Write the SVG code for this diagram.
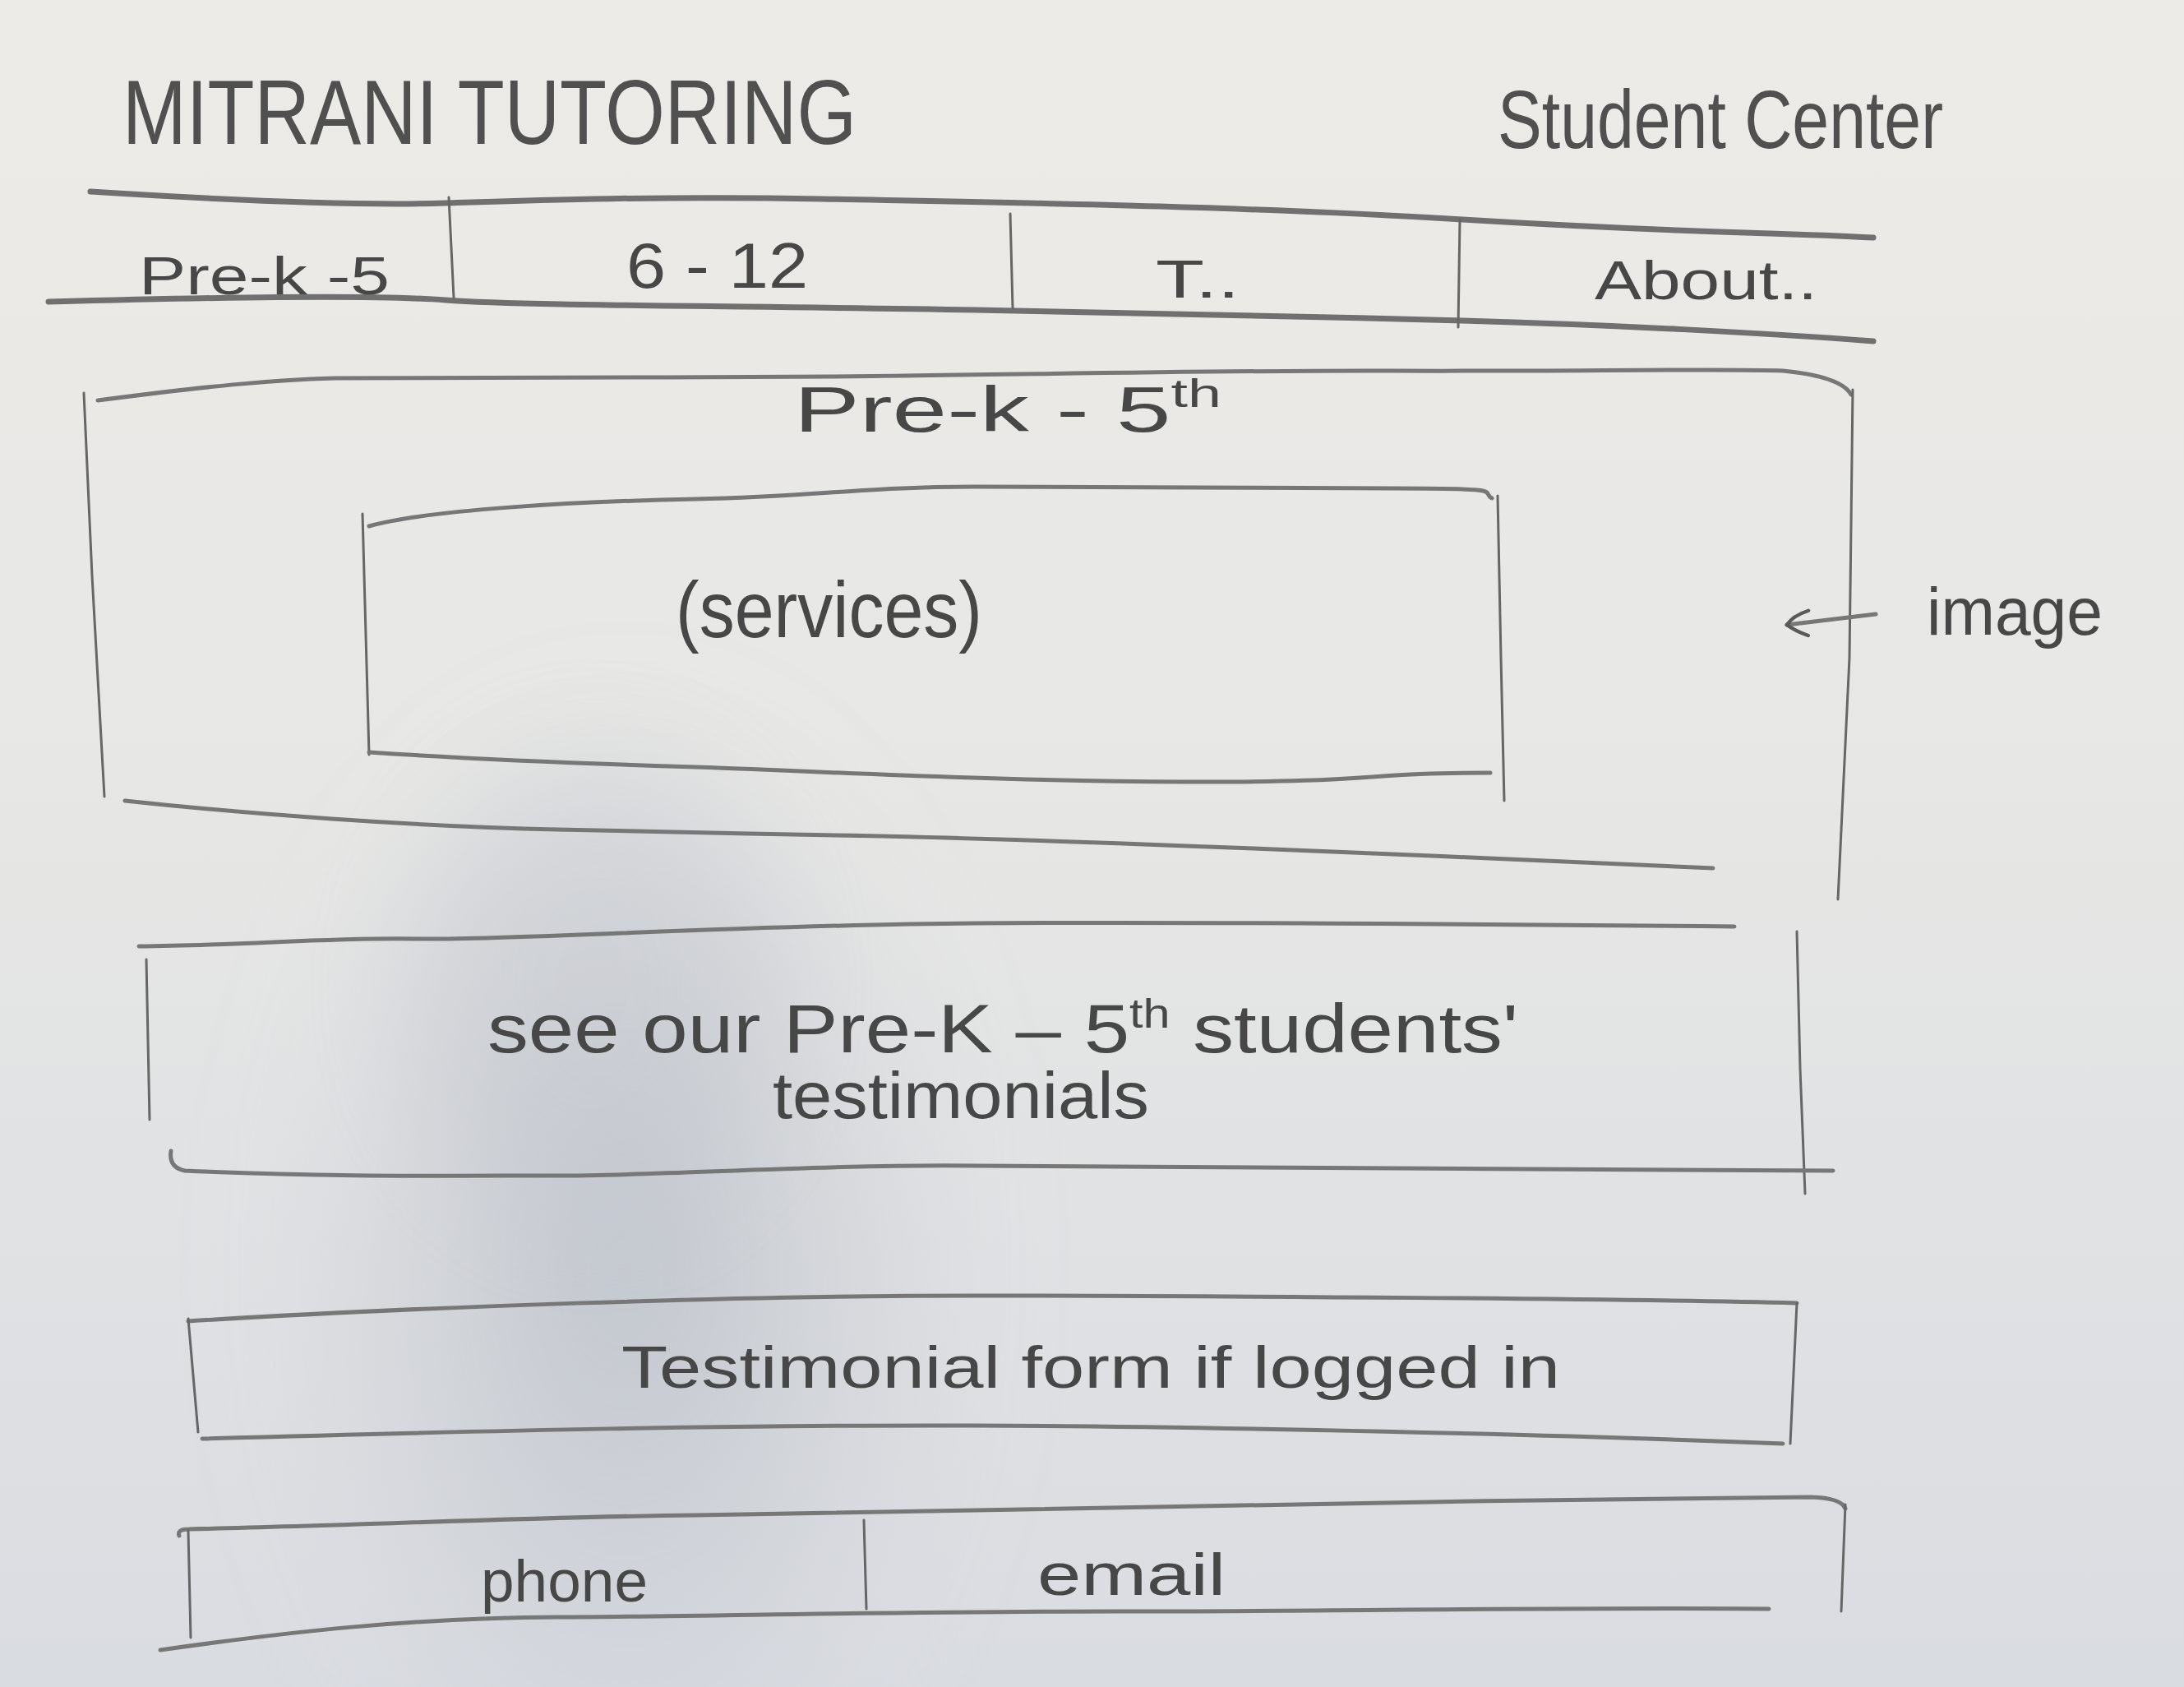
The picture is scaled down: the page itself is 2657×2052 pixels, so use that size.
<svg xmlns="http://www.w3.org/2000/svg" width="2657" height="2052" viewBox="0 0 2657 2052">
  <defs>
    <linearGradient id="paperTone" x1="0" y1="0" x2="0" y2="1">
      <stop offset="0" stop-color="#ecebe7"/>
      <stop offset="0.45" stop-color="#e7e7e5"/>
      <stop offset="1" stop-color="#d9dce1"/>
    </linearGradient>
    <radialGradient id="shadowTone" cx="0.5" cy="0.5" r="0.5">
      <stop offset="0" stop-color="#b2b8c2" stop-opacity="0.7"/>
      <stop offset="0.6" stop-color="#c0c5cd" stop-opacity="0.35"/>
      <stop offset="1" stop-color="#c8ccd3" stop-opacity="0"/>
    </radialGradient>
    <filter id="soft" x="-30%" y="-30%" width="160%" height="160%">
      <feGaussianBlur stdDeviation="70"/>
    </filter>
    <marker id="openHead" viewBox="0 0 20 20" refX="18" refY="10" markerWidth="40" markerHeight="40" markerUnits="userSpaceOnUse" orient="auto">
      <path d="M6,2 Q14,6 18,10 Q14,15 4,17" fill="none" stroke="#5a5a5a" stroke-width="2.2" stroke-linecap="round"/>
    </marker>
    <style>
      .line { fill: none; stroke: #777777; stroke-width: 5; stroke-linecap: round; stroke-linejoin: round; }
      .thick { stroke-width: 7; stroke: #707070; }
      .thin { stroke-width: 3; stroke: #666666; }
      .hand { font-family: "Liberation Sans", "DejaVu Sans", sans-serif; fill: #474747; }
      .title { fill: #505050; }
    </style>
  </defs>

  <!-- paper and the soft shadow falling across its lower half -->
  <g id="paper">
    <rect x="0" y="0" width="2657" height="2052" fill="url(#paperTone)"/>
    <ellipse cx="760" cy="1550" rx="430" ry="700" fill="url(#shadowTone)" filter="url(#soft)"/>
    <ellipse cx="720" cy="1200" rx="220" ry="280" fill="#bcc1ca" opacity="0.3" filter="url(#soft)"/>
  </g>

  <!-- site header -->
  <g id="header">
    <text class="hand title" x="149" y="175" font-size="112" textLength="893" lengthAdjust="spacingAndGlyphs">MITRANI  TUTORING</text>
    <text class="hand title" x="1822" y="180" font-size="100" textLength="542" lengthAdjust="spacingAndGlyphs">Student  Center</text>
  </g>

  <!-- navigation bar -->
  <g id="nav">
    <path class="line thick" d="M110,233 C300,245 450,250 542,247 S800,238 1000,242 S1500,250 1779,267 S2150,282 2279,289"/>
    <path class="line thick" d="M59,367 C250,362 450,358 542,365 S900,372 1186,377 S1600,385 1779,390 S2150,405 2279,415"/>
    <path class="line thin" d="M546,240 L552,362"/>
    <path class="line thin" d="M1229,260 L1232,375"/>
    <path class="line thin" d="M1776,267 L1774,398"/>
    <text class="hand" x="169" y="358" font-size="64" textLength="305" lengthAdjust="spacingAndGlyphs">Pre-k  -5</text>
    <text class="hand" x="762" y="350" font-size="78" textLength="221" lengthAdjust="spacingAndGlyphs">6 - 12</text>
    <text class="hand" x="1406" y="362" font-size="64" textLength="102" lengthAdjust="spacingAndGlyphs">T..</text>
    <text class="hand" x="1940" y="364" font-size="66" textLength="271" lengthAdjust="spacingAndGlyphs">About..</text>
  </g>

  <!-- hero section with background image -->
  <g id="hero">
    <path class="line" d="M119,487 C250,470 330,462 407,460 S800,460 1017,458 S1500,450 1695,451 S2100,448 2169,451 Q2240,458 2252,480"/>
    <path class="line thin" d="M2254,474 L2250,800 L2236,1094"/>
    <path class="line thin" d="M102,478 L112,700 L127,969"/>
    <path class="line" d="M152,974 C300,990 500,1005 678,1009 S900,1014 1017,1016 S1350,1025 1525,1032 S1950,1050 2084,1056"/>
    <text class="hand" x="966" y="525" font-size="78" textLength="520" lengthAdjust="spacingAndGlyphs">Pre-k   -   5<tspan font-size="48" dy="-30">th</tspan></text>
  </g>

  <!-- services panel inside the hero -->
  <g id="services">
    <path class="line" d="M449,640 C520,620 700,610 847,607 S1050,592 1186,592 S1550,594 1695,594 S1800,598 1815,606"/>
    <path class="line thin" d="M1822,603 L1826,800 L1830,974"/>
    <path class="line thin" d="M441,625 L449,918"/>
    <path class="line" d="M449,915 C600,925 750,930 847,933 S1200,950 1440,951 S1650,940 1813,940"/>
    <text class="hand" x="822" y="775" font-size="96" textLength="373" lengthAdjust="spacingAndGlyphs">(services)</text>
  </g>

  <!-- note pointing at the hero image -->
  <g id="image-note">
    <text class="hand" x="2344" y="772" font-size="82" textLength="214" lengthAdjust="spacingAndGlyphs">image</text>
  </g>

  <!-- testimonials banner -->
  <g id="testimonials">
    <path class="line" d="M169,1151 C300,1150 400,1140 508,1142 S900,1125 1186,1123 S1900,1125 2110,1127"/>
    <path class="line thin" d="M2186,1133 L2190,1300 L2196,1452"/>
    <path class="line thin" d="M178,1167 L182,1362"/>
    <path class="line" d="M208,1400 Q205,1420 225,1424 C400,1432 550,1430 678,1430 S1000,1416 1186,1418 S1900,1422 2230,1424"/>
    <text class="hand" x="593" y="1280" font-size="84" textLength="1254" lengthAdjust="spacingAndGlyphs">see  our  Pre-K –  5<tspan font-size="50" dy="-30">th</tspan><tspan dy="30">  students'</tspan></text>
    <text class="hand" x="940" y="1360" font-size="80" textLength="458" lengthAdjust="spacingAndGlyphs">testimonials</text>
  </g>

  <!-- testimonial submission form -->
  <g id="testimonial-form">
    <path class="line" d="M229,1607 C500,1590 900,1576 1186,1576 S2000,1580 2186,1585"/>
    <path class="line thin" d="M229,1604 L241,1742"/>
    <path class="line thin" d="M2186,1585 L2178,1756"/>
    <path class="line" d="M246,1750 C600,1740 900,1733 1186,1734 S1900,1745 2169,1756"/>
    <text class="hand" x="756" y="1688" font-size="72" textLength="1142" lengthAdjust="spacingAndGlyphs">Testimonial  form  if  logged in</text>
  </g>

  <!-- footer with contact details -->
  <g id="footer">
    <path class="line" d="M218,1868 Q215,1860 230,1860 C450,1855 650,1845 847,1843 S1700,1825 2203,1821 Q2240,1822 2245,1835"/>
    <path class="line thin" d="M2245,1830 L2240,1960"/>
    <path class="line thin" d="M229,1862 L232,1992"/>
    <path class="line" d="M195,2007 C350,1985 500,1968 678,1967 S1100,1960 1356,1960 S1900,1955 2152,1957"/>
    <path class="line thin" d="M1051,1849 L1054,1957"/>
    <text class="hand" x="585" y="1948" font-size="72" textLength="203" lengthAdjust="spacingAndGlyphs">phone</text>
    <text class="hand" x="1262" y="1940" font-size="72" textLength="229" lengthAdjust="spacingAndGlyphs">email</text>
  </g>

  <g id="connectors">
    <path class="line" stroke-width="4" d="M2282,747 L2174,760" marker-end="url(#openHead)"/>
  </g>
</svg>
